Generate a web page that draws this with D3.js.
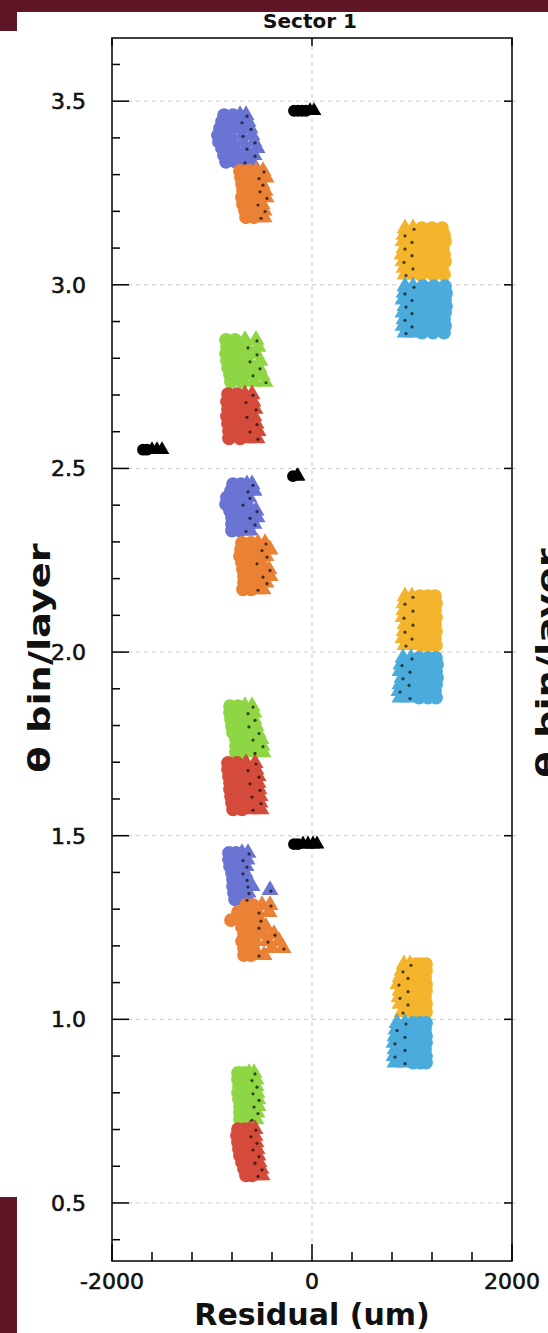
<!DOCTYPE html>
<html>
<head>
<meta charset="utf-8">
<style>
  html, body { margin: 0; padding: 0; background: #fff; overflow: hidden; }
  svg { display: block; }
</style>
<script src="https://cdn.jsdelivr.net/npm/d3@7"></script>
</head>
<body>
<div id="chart"></div>
<script>
// =============================================================================
// Sector 1 — residual vs theta bin/layer scatter
// =============================================================================
const W = 548, H = 1333;
const M = { top: 38, right: 36, bottom: 72, left: 112 };

const X_DOMAIN = [-2000, 2000];
const Y_DOMAIN = [0.342, 3.672];
const X_TICKS = [-2000, 0, 2000];
const X_MINOR = [-1600, -1200, -800, -400, 400, 800, 1200, 1600];
const Y_TICKS = [0.5, 1.0, 1.5, 2.0, 2.5, 3.0, 3.5];
const Y_MINOR = [0.4, 0.6, 0.7, 0.8, 0.9, 1.1, 1.2, 1.3, 1.4, 1.6, 1.7, 1.8, 1.9,
  2.1, 2.2, 2.3, 2.4, 2.6, 2.7, 2.8, 2.9, 3.1, 3.2, 3.3, 3.4, 3.6];

// rows: [theta bin/layer, residual per marker ...]
const blue3 = [
  [3.462, -880, -790, -720, -660], [3.444, -900, -800, -710, -640],
  [3.426, -920, -810, -700, -620], [3.407, -940, -820, -700, -600],
  [3.389, -930, -810, -690, -580], [3.372, -900, -780, -660, -550],
  [3.353, -880, -770, -670, -580], [3.335, -860, -760, -680, -600]
];
const orange3 = [
  [3.310, -720, -630, -560, -490], [3.292, -710, -620, -540, -460],
  [3.274, -700, -610, -550, -500], [3.256, -690, -600, -530, -470],
  [3.238, -700, -610, -530, -460], [3.220, -690, -600, -550, -500],
  [3.202, -670, -590, -530, -480], [3.184, -660, -580, -520, -480]
];
const yellow3 = [
  [3.154, 930, 1010, 1100, 1200, 1300], [3.136, 920, 1000, 1110, 1220, 1320],
  [3.118, 910, 990, 1100, 1220, 1330], [3.100, 920, 1000, 1110, 1210, 1310],
  [3.082, 900, 990, 1090, 1210, 1320], [3.064, 910, 1000, 1100, 1220, 1330],
  [3.046, 920, 1000, 1110, 1200, 1300], [3.028, 930, 1010, 1090, 1210, 1320]
];
const cyan3 = [
  [2.996, 930, 1010, 1110, 1220, 1330], [2.978, 920, 1000, 1100, 1220, 1340],
  [2.960, 910, 990, 1090, 1210, 1330], [2.942, 930, 1010, 1110, 1230, 1340],
  [2.924, 910, 990, 1100, 1220, 1330], [2.906, 920, 1000, 1080, 1200, 1320],
  [2.888, 910, 990, 1090, 1210, 1330], [2.870, 930, 1010, 1100, 1210, 1320]
];
const green3 = [
  [2.850, -860, -770, -670, -560], [2.831, -850, -750, -650, -540],
  [2.812, -860, -760, -660, -560], [2.793, -850, -740, -630, -520],
  [2.774, -840, -730, -630, -530], [2.755, -820, -710, -600, -500],
  [2.736, -810, -700, -580, -470]
];
const red3 = [
  [2.702, -840, -750, -670, -600], [2.682, -850, -750, -670, -590],
  [2.662, -840, -740, -650, -570], [2.642, -850, -750, -660, -580],
  [2.622, -840, -730, -640, -560], [2.602, -830, -730, -630, -540],
  [2.582, -830, -720, -640, -550]
];
const blue2 = [
  [2.457, -790, -710, -650, -600], [2.439, -810, -720, -650, -580],
  [2.421, -850, -750, -690, -630], [2.403, -860, -760, -700, -640],
  [2.385, -820, -730, -640, -560], [2.367, -800, -710, -630, -550],
  [2.349, -800, -710, -640, -580], [2.331, -800, -720, -670, -620]
];
const orange2 = [
  [2.297, -700, -610, -540, -470], [2.279, -710, -610, -510, -420],
  [2.261, -720, -620, -540, -460], [2.243, -700, -620, -560, -500],
  [2.225, -690, -600, -510, -430], [2.207, -680, -590, -500, -420],
  [2.189, -680, -590, -520, -460], [2.171, -690, -610, -550, -490]
];
const yellow2 = [
  [2.152, 930, 1000, 1080, 1160, 1230], [2.133, 920, 990, 1070, 1160, 1240],
  [2.114, 920, 1000, 1080, 1160, 1230], [2.095, 910, 990, 1070, 1160, 1240],
  [2.076, 930, 1000, 1080, 1160, 1230], [2.057, 920, 990, 1070, 1160, 1240],
  [2.038, 910, 990, 1080, 1160, 1230], [2.019, 930, 1000, 1090, 1170, 1240]
];
const cyan2 = [
  [1.984, 910, 990, 1070, 1160, 1240], [1.966, 890, 970, 1060, 1160, 1250],
  [1.948, 880, 970, 1070, 1160, 1240], [1.930, 900, 980, 1060, 1160, 1250],
  [1.912, 880, 960, 1050, 1150, 1240], [1.894, 870, 960, 1060, 1150, 1230],
  [1.876, 880, 970, 1070, 1160, 1240]
];
const green2 = [
  [1.853, -820, -740, -670, -600], [1.835, -820, -730, -650, -580],
  [1.817, -810, -730, -650, -580], [1.799, -800, -720, -640, -560],
  [1.781, -790, -710, -620, -540], [1.763, -760, -690, -600, -510],
  [1.745, -760, -680, -590, -500], [1.727, -760, -680, -580, -490]
];
const red2 = [
  [1.698, -840, -750, -660, -570], [1.680, -840, -740, -650, -560],
  [1.662, -830, -740, -640, -540], [1.644, -820, -730, -630, -540],
  [1.626, -820, -720, -620, -530], [1.608, -810, -710, -610, -520],
  [1.590, -800, -700, -610, -520], [1.572, -790, -700, -600, -510]
];
const blue1 = [
  [1.453, -830, -760, -700, -640], [1.435, -830, -750, -700, -650],
  [1.417, -820, -750, -700, -660], [1.399, -800, -740, -700, -670],
  [1.381, -790, -730, -690, -660], [1.363, -790, -710, -650, -600],
  [1.345, -780, -710, -670, -640], [1.327, -770, -700, -660, -640]
];
const blue1Out = [[1.352, -420]];
const orange1 = [
  [1.311, -660, -590, -500, -420], [1.292, -740, -650, -540, -430],
  [1.270, -810, -680, -600, -520], [1.251, -700, -630, -540, -460],
  [1.232, -680, -590, -480, -380], [1.213, -700, -580, -450, -330],
  [1.194, -680, -590, -400, -290], [1.175, -680, -610, -540, -480]
];
const yellow1 = [
  [1.150, 920, 980, 1040, 1090, 1140], [1.132, 900, 960, 1030, 1090, 1140],
  [1.114, 880, 950, 1020, 1080, 1130], [1.096, 860, 940, 1020, 1080, 1140],
  [1.078, 880, 950, 1030, 1090, 1140], [1.060, 870, 940, 1020, 1080, 1130],
  [1.042, 880, 950, 1030, 1090, 1140], [1.020, 900, 970, 1040, 1090, 1140]
];
const cyan1 = [
  [0.990, 850, 930, 1010, 1080, 1140], [0.972, 840, 920, 1000, 1070, 1130],
  [0.954, 830, 920, 1010, 1080, 1140], [0.936, 820, 910, 1000, 1070, 1140],
  [0.918, 830, 920, 1010, 1070, 1130], [0.900, 820, 910, 1000, 1070, 1140],
  [0.882, 830, 920, 1010, 1080, 1140]
];
const green1 = [
  [0.854, -740, -680, -630, -580], [0.836, -740, -670, -610, -560],
  [0.818, -730, -670, -610, -560], [0.800, -740, -670, -600, -550],
  [0.782, -730, -660, -600, -540], [0.764, -720, -650, -590, -540],
  [0.746, -720, -650, -600, -550], [0.728, -720, -660, -610, -560]
];
const red1 = [
  [0.701, -740, -670, -620, -570], [0.683, -750, -680, -620, -570],
  [0.665, -740, -670, -610, -560], [0.647, -730, -660, -600, -550],
  [0.629, -720, -650, -590, -540], [0.611, -700, -640, -580, -530],
  [0.593, -680, -620, -560, -510], [0.575, -660, -600, -550, -500]
];
const black3 = [[3.474, -180, -140, -100, -60, -20, 20]];
const black2 = [[2.551, -1690, -1650, -1600, -1550, -1500]];
const black2b = [[2.479, -190, -150, -140]];
const black1 = [[1.477, -180, -140, -90, -40, 10, 50]];

// c = circle, t = triangle, in column order
const SERIES = [
  { rows: blue3, color: '#6a74d3', shape: 'cctt' },
  { rows: orange3, color: '#ea8135', shape: 'cctt' },
  { rows: yellow3, color: '#f4b42c', shape: 'ttccc' },
  { rows: cyan3, color: '#4aabdc', shape: 'ttccc' },
  { rows: green3, color: '#8fd645', shape: 'cctt' },
  { rows: red3, color: '#d54b3b', shape: 'cctt' },
  { rows: blue2, color: '#6a74d3', shape: 'cctt' },
  { rows: orange2, color: '#ea8135', shape: 'cctt' },
  { rows: yellow2, color: '#f4b42c', shape: 'ttccc' },
  { rows: cyan2, color: '#4aabdc', shape: 'ttccc' },
  { rows: green2, color: '#8fd645', shape: 'cctt' },
  { rows: red2, color: '#d54b3b', shape: 'cctt' },
  { rows: blue1, color: '#6a74d3', shape: 'cctt' },
  { rows: blue1Out, color: '#6a74d3', shape: 't' },
  { rows: orange1, color: '#ea8135', shape: 'cctt' },
  { rows: yellow1, color: '#f4b42c', shape: 'ttccc' },
  { rows: cyan1, color: '#4aabdc', shape: 'ttccc' },
  { rows: green1, color: '#8fd645', shape: 'cctt' },
  { rows: red1, color: '#d54b3b', shape: 'cctt' },
  { rows: black3, color: '#000', shape: 'ccccttt', black: true },
  { rows: black2, color: '#000', shape: 'ccttt', black: true },
  { rows: black2b, color: '#000', shape: 'ctt', black: true },
  { rows: black1, color: '#000', shape: 'ccttttt', black: true }
];

const svg = d3.select('#chart').append('svg')
  .attr('width', W).attr('height', H)
  .style('font-family', "'DejaVu Sans', sans-serif");

const x = d3.scaleLinear().domain(X_DOMAIN).range([M.left, W - M.right]);
const y = d3.scaleLinear().domain(Y_DOMAIN).range([H - M.bottom, M.top]);
const x0 = M.left, x1 = W - M.right, y0 = M.top, y1 = H - M.bottom;

// maroon page bits
const maroon = '#5f1727';
svg.append('rect').attr('x', 0).attr('y', 0).attr('width', W).attr('height', 12).attr('fill', maroon);
svg.append('rect').attr('x', 0).attr('y', 0).attr('width', 17).attr('height', 31).attr('fill', maroon);
svg.append('rect').attr('x', 0).attr('y', 1197).attr('width', 17).attr('height', H - 1197).attr('fill', maroon);

// grid
const grid = svg.append('g').attr('stroke', '#c8c8c8').attr('stroke-dasharray', '4,4').attr('stroke-width', 1);
Y_TICKS.forEach(v => {
  grid.append('line').attr('x1', x0).attr('x2', x1 + 8).attr('y1', y(v)).attr('y2', y(v));
});
grid.append('line').attr('x1', x(0)).attr('x2', x(0)).attr('y1', y0).attr('y2', y1);

// points
const circ = d3.symbol().type(d3.symbolCircle);
const tri = d3.symbol().type(d3.symbolTriangle);
const marks = svg.append('g');
const dots = [];
SERIES.forEach(s => {
  const lastT = s.shape.lastIndexOf('t');
  s.rows.forEach((r, ri) => {
    const dotCol = ri % 2 ? lastT - 1 : lastT;
    r.slice(1).forEach((v, i) => {
      const sh = s.shape[i] || 't';
      const d = sh === 'c'
        ? circ.size(s.black ? 110 : 150)()
        : tri.size(s.black ? 95 : 125)();
      marks.append('path')
        .attr('transform', `translate(${x(v)},${y(r[0])})`)
        .attr('d', d)
        .attr('fill', s.color);
      if (!s.black && i === dotCol) dots.push([v, r[0]]);
    });
  });
});
svg.append('g').selectAll('circle').data(dots).join('circle')
  .attr('cx', d => x(d[0]) + 1)
  .attr('cy', d => y(d[1]) + 1)
  .attr('r', 1.6)
  .attr('fill', '#111')
  .attr('opacity', 0.75);

// frame
svg.append('rect').attr('x', x0).attr('y', y0).attr('width', x1 - x0).attr('height', y1 - y0)
  .attr('fill', 'none').attr('stroke', '#000').attr('stroke-width', 1.5);

// ticks (inward)
const tk = svg.append('g').attr('stroke', '#000').attr('stroke-width', 1.5);
Y_TICKS.forEach(v => {
  tk.append('line').attr('x1', x0).attr('x2', x0 + 17).attr('y1', y(v)).attr('y2', y(v));
  tk.append('line').attr('x1', x1).attr('x2', x1 - 8).attr('y1', y(v)).attr('y2', y(v));
});
Y_MINOR.forEach(v => {
  tk.append('line').attr('x1', x0).attr('x2', x0 + 8).attr('y1', y(v)).attr('y2', y(v));
});
X_TICKS.forEach(v => {
  tk.append('line').attr('x1', x(v)).attr('x2', x(v)).attr('y1', y1).attr('y2', y1 - 17);
  tk.append('line').attr('x1', x(v)).attr('x2', x(v)).attr('y1', y0).attr('y2', y0 + 8);
});
X_MINOR.forEach(v => {
  tk.append('line').attr('x1', x(v)).attr('x2', x(v)).attr('y1', y1).attr('y2', y1 - 9);
});

// tick labels
const yFmt = d3.format('.1f');
svg.append('g').selectAll('text').data(Y_TICKS).join('text')
  .attr('x', x0 - 26).attr('y', d => y(d) + 8)
  .attr('text-anchor', 'end')
  .style('font-size', '22px')
  .attr('fill', '#111').attr('stroke', '#111').attr('stroke-width', 0.6)
  .text(d => yFmt(d));
svg.append('g').selectAll('text').data(X_TICKS).join('text')
  .attr('x', d => x(d)).attr('y', y1 + 28)
  .attr('text-anchor', 'middle')
  .style('font-size', '22px')
  .attr('fill', '#111').attr('stroke', '#111').attr('stroke-width', 0.6)
  .text(d => String(d));

// titles
svg.append('text').attr('x', x(0) - 2).attr('y', 28)
  .attr('text-anchor', 'middle').style('font-size', '20px').style('font-weight', 'bold')
  .attr('fill', '#111').text('Sector 1');
svg.append('text').attr('x', x(0)).attr('y', 1325)
  .attr('text-anchor', 'middle').style('font-size', '30px').style('font-weight', 'bold')
  .attr('fill', '#111').text('Residual (um)');
svg.append('text').attr('transform', 'translate(50,658) rotate(-90) scale(1.28,1)')
  .attr('text-anchor', 'middle').style('font-size', '30px').style('font-weight', 'bold')
  .attr('fill', '#111').text('θ bin/layer');
// neighbouring panel's axis label, cut by the page edge as in the source image
svg.append('text').attr('transform', 'translate(558,663) rotate(-90) scale(1.28,1)')
  .attr('text-anchor', 'middle').style('font-size', '30px').style('font-weight', 'bold')
  .attr('fill', '#111').text('θ bin/layer');
</script>
</body>
</html>
